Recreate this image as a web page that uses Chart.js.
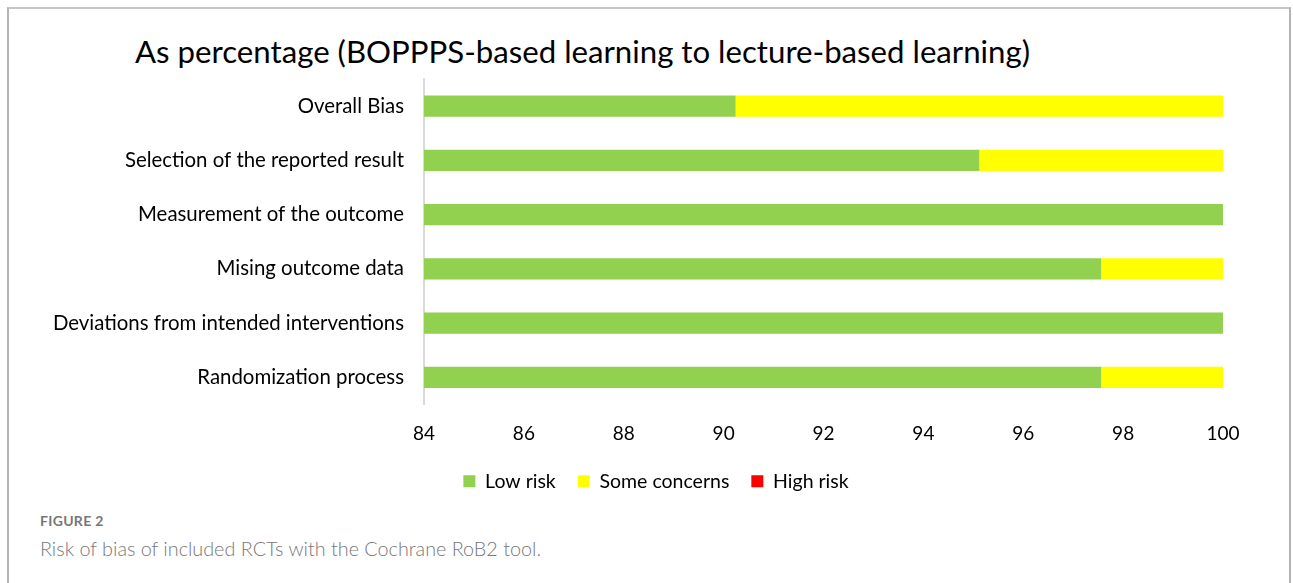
<!DOCTYPE html>
<html>
<head>
<meta charset="utf-8">
<script src="https://cdn.jsdelivr.net/npm/chart.js@4.4.1/dist/chart.umd.min.js"></script>
<style>
  html, body { margin: 0; padding: 0; background: #fff; }
  body { width: 1293px; height: 583px; position: relative; overflow: hidden; font-family: Lato, sans-serif; }
  .frame { position: absolute; left: 7px; top: 7px; width: 1284px; height: 600px; border-top: 2px solid #c4c4c4; border-left: 2px solid #b4b4b4; border-right: 2px solid #b4b4b4; box-sizing: border-box; }
  .title { position: absolute; left: 135px; top: 32px; font-size: 31.2px; color: #000; white-space: nowrap; }
  .wrap { position: absolute; left: 0; top: 0; width: 1293px; height: 501px; }
  .fig { position: absolute; left: 40px; top: 512px; font-size: 14px; font-weight: bold; color: #777; letter-spacing: 0.3px; }
  .cap { position: absolute; left: 40px; top: 536px; font-size: 19.8px; font-weight: 300; color: #777; }
</style>
</head>
<body>
<div class="frame"></div>
<div class="title">As percentage (BOPPPS-based learning to lecture-based learning)</div>
<div class="wrap"><canvas id="chart" width="1293" height="501"></canvas></div>
<div class="fig">FIGURE 2</div>
<div class="cap">Risk of bias of included RCTs with the Cochrane RoB2 tool.</div>
<script>
// Risk-of-bias domains, top to bottom
const domains = [
    'Overall Bias',
    'Selection of the reported result',
    'Measurement of the outcome',
    'Mising outcome data',
    'Deviations from intended interventions',
    'Randomization process'
];
const lowRisk = [90.24, 95.12, 100, 97.56, 100, 97.56];
const someConcerns = [9.76, 4.88, 0, 2.44, 0, 2.44];
const highRisk = [0, 0, 0, 0, 0, 0];
const xTicks = [84, 86, 88, 90, 92, 94, 96, 98, 100];

const catFont = { family: 'Lato', size: 20.4 };
const tickFont = { family: 'Lato', size: 19 };
const legendFont = { family: 'Lato', size: 19.5 };

// the original legend sits a bit right of the canvas centre
const legendShift = {
    id: 'legendShift',
    afterLayout(chart) {
        if (chart.legend) chart.legend.left = 89;
    }
};

new Chart(document.getElementById('chart').getContext('2d'), {
    type: 'bar',
    data: {
        labels: domains,
        datasets: [
            { label: 'Low risk', data: lowRisk, backgroundColor: '#92D050' },
            { label: 'Some concerns', data: someConcerns, backgroundColor: '#FFFF00' },
            { label: 'High risk', data: highRisk, backgroundColor: '#FF0000' }
        ]
    },
    plugins: [legendShift],
    options: {
        indexAxis: 'y',
        responsive: false,
        animation: false,
        layout: { padding: { top: 79, right: 70, left: 0, bottom: 0 } },
        datasets: {
            bar: { categoryPercentage: 1, barPercentage: 0.39 }
        },
        plugins: {
            title: { display: false },
            tooltip: { enabled: false },
            legend: {
                position: 'bottom',
                labels: {
                    boxWidth: 12,
                    boxHeight: 12,
                    padding: 22,
                    color: '#000',
                    font: legendFont
                }
            }
        },
        scales: {
            x: {
                stacked: true,
                min: 84,
                max: 100,
                afterBuildTicks: scale => { scale.ticks = xTicks.map(v => ({ value: v })); },
                afterFit: scale => { scale.height = 45; },
                grid: { display: false, drawTicks: false },
                border: { display: false },
                ticks: { color: '#000', font: tickFont, padding: 17.5 }
            },
            y: {
                stacked: true,
                afterFit: scale => { scale.width = 424; },
                grid: { display: false, drawTicks: false },
                border: { display: true, color: '#d9d9d9', width: 2 },
                ticks: { color: '#000', font: catFont, padding: 20 }
            }
        }
    }
});
</script>
</body>
</html>
